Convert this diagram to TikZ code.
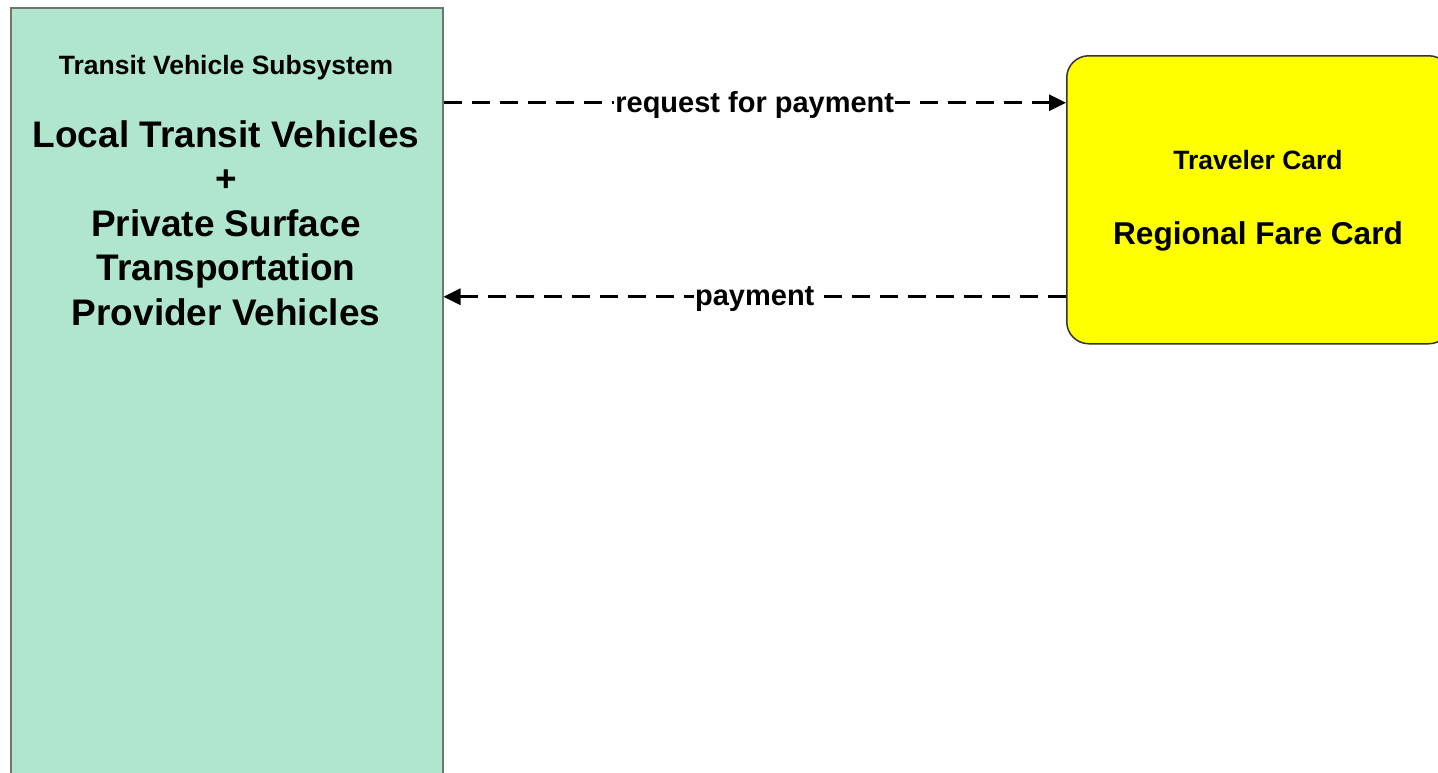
\documentclass[tikz,border=0pt]{standalone}
\usepackage{fontspec}
\setmainfont{Liberation Sans}
\usetikzlibrary{positioning,arrows.meta}
\definecolor{tvsgreen}{RGB}{175,230,205}
\definecolor{tvsborder}{RGB}{110,118,114}
\definecolor{cardyellow}{RGB}{255,255,0}
\tikzstyle{subsys} = [rectangle, draw=tvsborder, line width=1.5pt, fill=tvsgreen, anchor=north west, inner sep=0pt]
\tikzstyle{term} = [rectangle, draw=black!80, line width=1.5pt, fill=cardyellow, rounded corners=22pt, anchor=north west, inner sep=0pt]
\tikzstyle{kind} = [font=\bfseries\fontsize{26.5}{31}\selectfont, inner sep=0pt, anchor=base]
\tikzstyle{flow} = [draw, line width=2.8pt, dash pattern=on 18pt off 10pt, -{Triangle[length=17pt,width=16pt]}]
\tikzstyle{flowlabel} = [font=\bfseries\fontsize{29}{34}\selectfont, fill=white, inner sep=1pt, midway, yshift=-2pt]

\begin{document}
\begin{tikzpicture}[x=1pt, y=-1pt]
		\clip (0,0) rectangle (1438,772);
		\node[subsys, minimum width=432pt, minimum height=790pt] (tvs) at (10,7) {};
		\node[term, minimum width=384pt, minimum height=288pt] (rfc) at (1066,55) {};
		
		\node[kind] (tvstitle) at (226,74.5) {Transit Vehicle Subsystem};
		\node[font=\bfseries\fontsize{37}{44.5}\selectfont, align=center, inner sep=0pt] (tvsname) at (226,223)
			{Local Transit Vehicles\\+\\Private Surface\\Transportation\\Provider Vehicles};
		\node[kind] (rfctitle) at (1258,169.5) {Traveler Card};
		\node[font=\bfseries\fontsize{31.6}{37}\selectfont, inner sep=0pt, anchor=base] (rfcname) at (1258,244.3) {Regional Fare Card};
		
		\coordinate (reqR) at ([yshift=97pt]rfc.west);
		\coordinate (reqL) at (tvs.east |- reqR);
		\coordinate (payR) at ([yshift=-97pt]rfc.west);
		\coordinate (payL) at (tvs.east |- payR);
		\path[flow] (reqL) -- node[flowlabel] {request for payment} (reqR);
		\path[flow] (payR) -- node[flowlabel] {payment} (payL);
	\end{tikzpicture}
\end{document}
